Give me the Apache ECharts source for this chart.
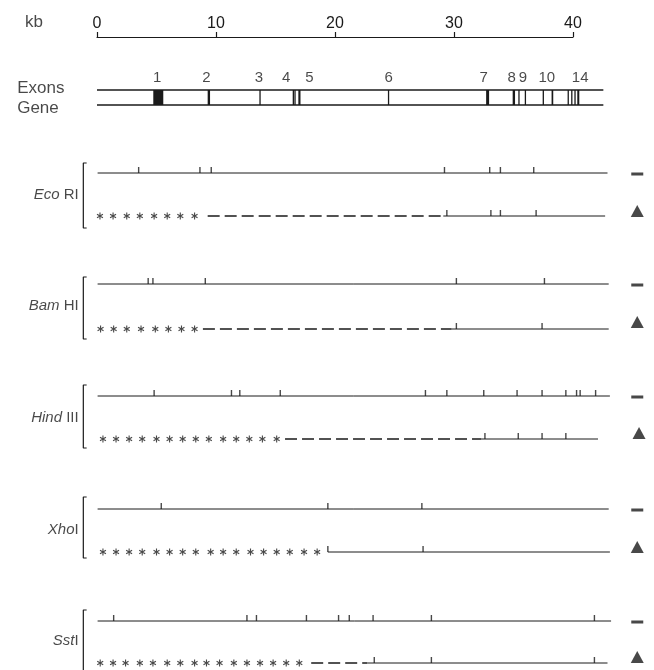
<!DOCTYPE html>
<html><head><meta charset="utf-8">
<script src="https://cdn.jsdelivr.net/npm/echarts@6/dist/echarts.min.js"></script>
<style>html,body{margin:0;padding:0;background:#fff}#c{width:654px;height:670px}</style>
</head><body><div id="c"></div>
<script>
// ---------------- data (positions in kb) ----------------
const scaleTicks = [0, 10, 20, 30, 40];
const geneEnd = 42.55;
const exonNumbers = ['1','2','3','4','5','6','7','8','9','10','14'];
const exonNumberPos = [5.05, 9.2, 13.6, 15.9, 17.85, 24.5, 32.5, 34.85, 35.8, 37.8, 40.6];
const exonStart = [4.73, 9.3, 13.7, 16.5, 16.64, 16.92, 24.5, 32.7, 34.93, 35.46, 36.0, 37.45, 38.2, 39.6, 39.9, 40.17, 40.36];
const exonEnd   = [5.57, 9.5, 13.7, 16.5, 16.64, 17.1, 24.5, 32.95, 35.13, 35.46, 36.0, 37.56, 38.34, 39.6, 39.9, 40.17, 40.53];

const enzymeItalic = ['Eco', 'Bam', 'Hind', 'Xho', 'Sst'];
const enzymeRoman  = [' RI', ' HI', ' III', 'I', 'I'];

// EcoRI
const ecoTopSites = [3.5, 8.65, 9.6, 29.2, 33.0, 33.9, 36.7];
const ecoTopEnd = 42.9;
const ecoStars = [0.25, 1.35, 2.5, 3.6, 4.8, 5.9, 7.0, 8.2];
const ecoDashed = [9.3, 29.1];
const ecoSolid = [29.1, 42.7];
const ecoBottomSites = [29.4, 33.1, 33.9, 36.9];
// BamHI
const bamTopSites = [4.3, 4.7, 9.1, 30.2, 37.6];
const bamTopEnd = 43.0;
const bamStars = [0.3, 1.4, 2.5, 3.7, 4.9, 6.0, 7.1, 8.2];
const bamDashed = [8.9, 29.8];
const bamSolid = [29.8, 43.0];
const bamBottomSites = [30.2, 37.4];
// HindIII
const hindTopSites = [4.8, 11.3, 12.0, 15.4, 27.6, 29.4, 32.5, 35.3, 37.4, 39.4, 40.3, 40.6, 41.9];
const hindTopEnd = 43.1;
const hindStars = [0.5, 1.6, 2.7, 3.8, 5.0, 6.1, 7.2, 8.3, 9.4, 10.6, 11.7, 12.8, 13.9, 15.1];
const hindDashed = [15.8, 32.3];
const hindSolid = [32.3, 42.1];
const hindBottomSites = [32.6, 35.4, 37.4, 39.4];
// XhoI
const xhoTopSites = [5.4, 19.4, 27.3];
const xhoTopEnd = 43.0;
const xhoStars = [0.5, 1.6, 2.7, 3.8, 5.0, 6.1, 7.2, 8.3, 9.55, 10.6, 11.7, 12.9, 14.0, 15.1, 16.2, 17.4, 18.5];
const xhoDashed = null;
const xhoSolid = [19.4, 43.1];
const xhoBottomSites = [19.4, 27.4];
// SstI
const sstTopSites = [1.4, 12.6, 13.4, 17.6, 20.3, 21.2, 23.2, 28.1, 41.8];
const sstTopEnd = 43.2;
const sstStars = [0.27, 1.35, 2.4, 3.6, 4.7, 5.9, 7.0, 8.2, 9.2, 10.3, 11.5, 12.6, 13.7, 14.8, 15.9, 17.0];
const sstDashed = [18.0, 22.7];
const sstSolid = [22.7, 42.9];
const sstBottomSites = [23.3, 28.1, 41.8];

const enzymeData = [
  {top: ecoTopSites, topEnd: ecoTopEnd, stars: ecoStars, dashed: ecoDashed, solid: ecoSolid, bottom: ecoBottomSites},
  {top: bamTopSites, topEnd: bamTopEnd, stars: bamStars, dashed: bamDashed, solid: bamSolid, bottom: bamBottomSites},
  {top: hindTopSites, topEnd: hindTopEnd, stars: hindStars, dashed: hindDashed, solid: hindSolid, bottom: hindBottomSites},
  {top: xhoTopSites, topEnd: xhoTopEnd, stars: xhoStars, dashed: xhoDashed, solid: xhoSolid, bottom: xhoBottomSites},
  {top: sstTopSites, topEnd: sstTopEnd, stars: sstStars, dashed: sstDashed, solid: sstSolid, bottom: sstBottomSites}
];

// ---------------- layout (rows on a pixel-like vertical scale) ----------------
const INK = '#1a1a1a';
const FONT = 'Liberation Sans, Arial, sans-serif';
const LAY = {
  geneTop: 90, geneBottom: 105, exonNumY: 78,
  trackTop:    [173, 284, 396, 509, 621],
  trackBottom: [216, 329, 439, 552, 663],
  bracketTop:  [163, 277, 385, 497, 610],
  bracketBot:  [228, 339, 448, 558, 672],
  labelY:      [195, 306, 418, 530, 641],
  triY:        [211, 322, 433, 547, 657],
  triX:        [45.4, 45.4, 45.55, 45.4, 45.4],
  dashX: 45.4, bracketX: -1.15, bracketSerif: -0.87, labelX: -1.5, lineStart: 0.05
};

const series = [];
function line(pts, width, type) {
  series.push({type: 'line', data: pts, symbol: 'none', silent: true, animation: false,
    lineStyle: {color: INK, width: width, type: type || 'solid', cap: 'butt'}, z: 2});
}
function ticks(xs, y) {
  series.push({type: 'scatter', data: xs.map(x => [x, y]), symbol: 'rect', symbolSize: [1.4, 6],
    symbolOffset: [0, -3], itemStyle: {color: INK}, silent: true, animation: false, z: 3});
}
const STAR = 'path://M-0.8,-5L0.8,-5L0.8,5L-0.8,5Z M3.93,3.19L-4.73,-1.81L-3.93,-3.19L4.73,1.81Z M-4.73,1.81L3.93,-3.19L4.73,-1.81L-3.93,3.19Z';

// gene lines
line([[0, LAY.geneTop], [geneEnd, LAY.geneTop]], 1.6);
line([[0, LAY.geneBottom], [geneEnd, LAY.geneBottom]], 1.6);
// exons
series.push({
  type: 'custom', silent: true, animation: false, z: 4,
  data: exonStart.map((s, i) => [s, exonEnd[i]]),
  encode: {x: [0, 1]},
  renderItem: function (params, api) {
    const a = api.coord([api.value(0), LAY.geneTop]);
    const b = api.coord([api.value(1), LAY.geneBottom]);
    let w = b[0] - a[0];
    let x = a[0];
    if (w < 1.3) { x = x - 0.65; w = 1.3; }
    return {type: 'rect', shape: {x: x, y: a[1], width: w, height: b[1] - a[1]}, style: {fill: INK}};
  }
});
// exon numbers
series.push({
  type: 'scatter', silent: true, animation: false, symbolSize: 1,
  itemStyle: {color: 'rgba(0,0,0,0)'},
  data: exonNumbers.map((t, i) => ({value: [exonNumberPos[i], LAY.exonNumY], name: t})),
  label: {show: true, position: 'inside', formatter: p => p.name, color: INK, fontSize: 15, fontFamily: FONT}
});

// tracks
enzymeData.forEach((d, i) => {
  const yt = LAY.trackTop[i], yb = LAY.trackBottom[i];
  line([[LAY.lineStart, yt], [d.topEnd, yt]], 1);
  ticks(d.top, yt);
  if (d.dashed) line([[d.dashed[0], yb], [d.dashed[1], yb]], 1.3, [12, 5]);
  line([[d.solid[0], yb], [d.solid[1], yb]], 1);
  ticks(d.bottom, yb);
  series.push({type: 'scatter', silent: true, animation: false, data: d.stars.map(x => [x, yb]),
    symbol: STAR, symbolSize: [6.5, 7], itemStyle: {color: INK}});
  // bracket
  line([[LAY.bracketSerif, LAY.bracketTop[i]], [LAY.bracketX, LAY.bracketTop[i]],
        [LAY.bracketX, LAY.bracketBot[i]], [LAY.bracketSerif, LAY.bracketBot[i]]], 1.2);
  // right-hand symbols
  series.push({type: 'scatter', silent: true, animation: false, symbol: 'rect', symbolSize: [12, 3],
    data: [[LAY.dashX, yt + 1]], itemStyle: {color: INK}});
  series.push({type: 'scatter', silent: true, animation: false, symbol: 'triangle', symbolSize: [13, 12],
    data: [[LAY.triX[i], LAY.triY[i]]], itemStyle: {color: INK}});
});

// text labels
const textItems = [
  {value: [-5.3, 22], text: 'kb', pos: 'inside'},
  {value: [-6.75, 88], text: 'Exons', pos: 'right'},
  {value: [-6.75, 108], text: 'Gene', pos: 'right'}
];
series.push({
  type: 'scatter', silent: true, animation: false, symbolSize: 1, itemStyle: {color: 'rgba(0,0,0,0)'},
  data: textItems.map(t => ({value: t.value, name: t.text, label: {position: t.pos}})),
  label: {show: true, formatter: p => p.name, distance: 0, color: INK, fontSize: 17, fontFamily: FONT}
});
series.push({
  type: 'scatter', silent: true, animation: false, symbolSize: 1, itemStyle: {color: 'rgba(0,0,0,0)'},
  data: enzymeItalic.map((t, i) => ({value: [LAY.labelX, LAY.labelY[i]], name: '{i|' + t + '}{n|' + enzymeRoman[i] + '}'})),
  label: {show: true, position: 'left', distance: 0, formatter: p => p.name,
    rich: {i: {fontStyle: 'italic', fontSize: 15, color: INK, fontFamily: FONT},
           n: {fontSize: 15, color: INK, fontFamily: FONT}}}
});

const chart = echarts.init(document.getElementById('c'), null, {renderer: 'canvas'});
chart.setOption({
  animation: false,
  backgroundColor: '#fff',
  grid: [
    {left: 1.8, top: 0, width: 648.55, height: 670},
    {left: 97, top: 37, width: 476, height: 20}
  ],
  xAxis: [
    {gridIndex: 0, type: 'value', min: -8, max: 46.5, show: false},
    {gridIndex: 1, type: 'value', min: 0, max: 40, interval: 10, position: 'top',
      axisLine: {show: true, onZero: false, lineStyle: {color: INK, width: 1.2}},
      axisTick: {show: true, length: 5, lineStyle: {color: INK, width: 1.2}},
      axisLabel: {show: true, margin: 5, color: INK, fontSize: 16, fontFamily: FONT,
        formatter: v => scaleTicks.indexOf(v) >= 0 ? String(v) : ''},
      splitLine: {show: false}}
  ],
  yAxis: [
    {gridIndex: 0, type: 'value', min: 0, max: 670, inverse: true, show: false},
    {gridIndex: 1, type: 'value', min: 0, max: 1, show: false}
  ],
  series: series
});
</script>
</body></html>
